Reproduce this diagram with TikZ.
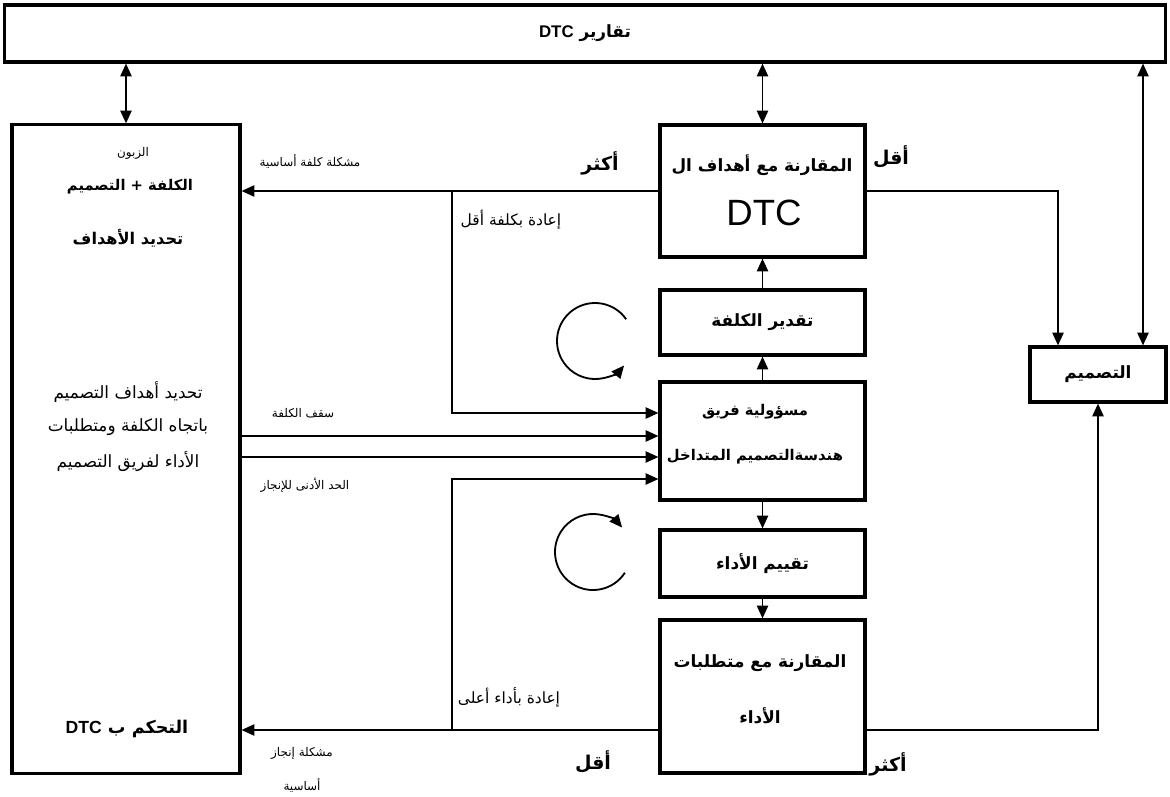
\documentclass[tikz,border=0pt]{standalone}
\usepackage{fontspec}
\usetikzlibrary{arrows.meta,calc,positioning}
\setmainfont{Liberation Sans}
\newfontfamily\arabicfont[Script=Arabic]{DejaVu Sans}
\TeXXeTstate=1
\newcommand{\artext}[1]{{\arabicfont\beginR #1\endR}}
\newcommand{\dtcword}{{\normalfont\bfseries DTC}}
\tikzset{
 blockbox/.style={draw,line width=2.2pt,inner sep=0pt,fill=white},
 flowline/.style={line width=1.3pt},
 boxtext/.style={inner sep=1pt,font=\fontsize{12}{15}\selectfont\bfseries},
 teamtext/.style={inner sep=1pt,font=\fontsize{10.5}{13}\selectfont\bfseries},
 goaltext/.style={inner sep=1pt,font=\fontsize{12}{15}\selectfont},
 smalltext/.style={inner sep=1pt,font=\fontsize{8.5}{10}\selectfont},
 backtext/.style={inner sep=1pt,font=\fontsize{11}{13}\selectfont},
 sidetext/.style={inner sep=1pt,font=\fontsize{13.5}{16}\selectfont\bfseries},
}

\begin{document}
\begin{tikzpicture}[x=0.025cm,y=-0.025cm,>={Triangle[length=3.2mm,width=2.8mm]},line cap=butt,line join=miter]
 \useasboundingbox (0,0) rectangle (1170,796);
 % boxes
 \node[blockbox,minimum width=29cm,minimum height=1.425cm,
  font=\fontsize{12}{14}\selectfont\bfseries]
  (reports) at (585,33.5) {\artext{تقارير \dtcword}};
 \node[blockbox,minimum width=5.7cm,minimum height=16.2cm] (goals) at (126,449) {};
 \node[blockbox,minimum width=5.125cm,minimum height=3.3cm] (cmpcost) at (762.5,191) {};
 \node[blockbox,boxtext,minimum width=5.125cm,minimum height=1.625cm]
  (estcost) at (762.5,322.5) {\artext{تقدير الكلفة}};
 \node[blockbox,minimum width=5.125cm,minimum height=2.95cm] (team) at (762.5,441) {};
 \node[blockbox,boxtext,minimum width=5.125cm,minimum height=1.675cm]
  (evalperf) at (762.5,563.5) {\artext{تقييم الأداء}};
 \node[blockbox,minimum width=5.125cm,minimum height=3.825cm] (cmpperf) at (762.5,696.5) {};
 \node[blockbox,minimum width=3.4cm,minimum height=1.375cm,
  font=\fontsize{12}{14}\selectfont\bfseries]
  (design) at (1098,374.5) {\artext{التصميم}};

 % texts in the boxes
 \node[smalltext] (client) at (133,153) {\artext{الزبون}};
 \node[goaltext,font=\fontsize{10.5}{13}\selectfont\bfseries] (costdesign) at (130,187) {\artext{الكلفة + التصميم}};
 \node[goaltext,font=\fontsize{11.5}{14}\selectfont\bfseries] (setgoals) at (128,238) {\artext{تحديد الأهداف}};
 \node[goaltext] (designgoals1) at (128,392) {\artext{تحديد أهداف التصميم}};
 \node[goaltext] (designgoals2) at (128,427) {\artext{باتجاه الكلفة ومتطلبات}};
 \node[goaltext] (designgoals3) at (128,462) {\artext{الأداء لفريق التصميم}};
 \node[goaltext,font=\fontsize{12.5}{15}\selectfont\bfseries] (dtccontrol) at (127,729) {\artext{التحكم ب \dtcword}};
 \node[boxtext] (cmpcost1) at (762,165) {\artext{المقارنة مع أهداف ال}};
 \node[font=\fontsize{26}{28}\selectfont] (cmpcost2) at (764,213) {DTC};
 \node[teamtext] (team1) at (755,412) {\artext{مسؤولية فريق}};
 \node[teamtext] (team2) at (755,457) {\artext{هندسةالتصميم المتداخل}};
 \node[boxtext] (cmpperf1) at (760,663) {\artext{المقارنة مع متطلبات}};
 \node[boxtext] (cmpperf2) at (760,716) {\artext{الأداء}};

 % labels on the lines
 \node[sidetext] (more1) at (600,163) {\artext{أكثر}};
 \node[sidetext] (less1) at (891,157) {\artext{أقل}};
 \node[sidetext] (less2) at (593,762) {\artext{أقل}};
 \node[sidetext] (more2) at (888,764) {\artext{أكثر}};
 \node[smalltext] (costissue) at (310,161) {\artext{مشكلة كلفة أساسية}};
 \node[backtext] (lesscost) at (511,220) {\artext{إعادة بكلفة أقل}};
 \node[smalltext] (costcap) at (303,413) {\artext{سقف الكلفة}};
 \node[smalltext] (minperf) at (305,485) {\artext{الحد الأدنى للإنجاز}};
 \node[backtext] (moreperf) at (509,697) {\artext{إعادة بأداء أعلى}};
 \node[smalltext] (perfissue1) at (302,753) {\artext{مشكلة إنجاز}};
 \node[smalltext] (perfissue2) at (302,785) {\artext{أساسية}};

 % helper points
 \coordinate (loopx) at (452,0);
 \coordinate (designx1) at (1058,0);
 \coordinate (designx2) at (1143,0);
 \coordinate (teamin1) at ($(team.west)+(0,-28)$);
 \coordinate (teamin2) at ($(team.west)+(0,-5)$);
 \coordinate (teamin3) at ($(team.west)+(0,16)$);
 \coordinate (teamin4) at ($(team.west)+(0,38)$);
 \coordinate (perfleft) at ($(cmpperf.west)+(0,33.5)$);
 \coordinate (perfright) at ($(cmpperf.east)+(0,33.5)$);
 \coordinate (costloop) at (595,341);
 \coordinate (perfloop) at (593,552);

 % connectors
 \draw[flowline,<->] (reports.south -| goals.north) -- (goals.north);
 \draw[flowline,<->] (reports.south -| cmpcost.north) -- (cmpcost.north);
 \draw[flowline,<->] (reports.south -| designx2) -- (design.north -| designx2);
 \draw[flowline,->] (estcost.north) -- (cmpcost.south);
 \draw[flowline,->] (team.north) -- (estcost.south);
 \draw[flowline,->] (team.south) -- (evalperf.north);
 \draw[flowline,->] (evalperf.south) -- (cmpperf.north);
 \draw[flowline,->] (cmpcost.west) -- (cmpcost.west -| goals.east);
 \draw[flowline,->] (cmpcost.west -| loopx) |- (teamin1);
 \draw[flowline,->] (teamin2 -| goals.east) -- (teamin2);
 \draw[flowline,->] (teamin3 -| goals.east) -- (teamin3);
 \draw[flowline,->] (perfleft) -- (perfleft -| goals.east);
 \draw[flowline,->] (perfleft -| loopx) |- (teamin4);
 \draw[flowline,->] (cmpcost.east) -| (design.north -| designx1);
 \draw[flowline,->] (perfright) -| (design.south);

 % loop arrows
 \draw[flowline,->] (costloop) ++(35:0.95cm) arc[start angle=35,end angle=320,radius=0.95cm];
 \draw[flowline,->] (perfloop) ++(-33:0.95cm) arc[start angle=-33,end angle=-320,radius=0.95cm];
\end{tikzpicture}
\end{document}
